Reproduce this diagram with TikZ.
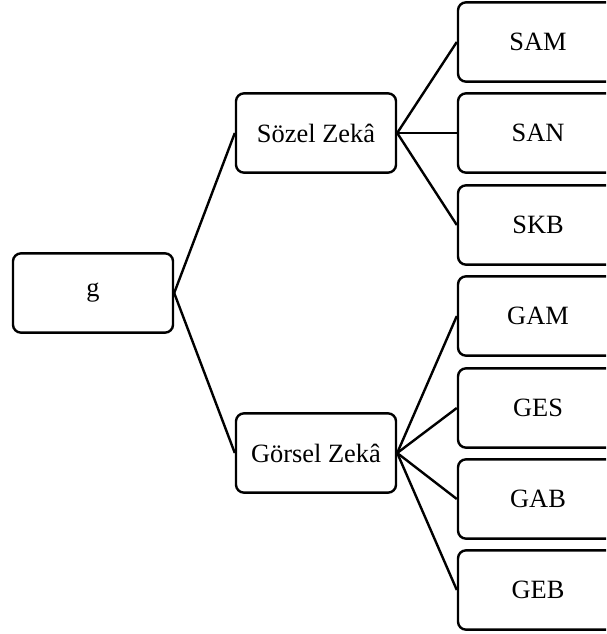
\documentclass[tikz,border=0pt]{standalone}
\usepackage{fontspec}
\setmainfont{Liberation Serif}
\begin{document}
\begin{tikzpicture}[x=0.75pt, y=-0.75pt, line width=1.8pt,
    box/.style={draw, rounded corners=6pt, minimum width=120pt, minimum height=59.5pt,
      font=\fontsize{19.8}{24}\selectfont, inner sep=0pt}]
      \useasboundingbox (0,0) rectangle (606,634);
      \clip (0,0) rectangle (606,634);
      \node[box] (g) at (93, 293) {g};
      \node[box] (soz) at (316, 133) {Sözel Zekâ};
      \node[box] (gor) at (316, 453) {Görsel Zekâ};

      \node[box] (sam) at (538, 42) {SAM};
      \node[box] (san) at (538, 133) {SAN};
      \node[box] (skb) at (538, 225) {SKB};
      \node[box] (gam) at (538, 316) {GAM};
      \node[box] (ges) at (538, 408) {GES};
      \node[box] (gab) at (538, 499) {GAB};
      \node[box] (geb) at (538, 590) {GEB};

      \draw (g.east) -- (soz.west);
      \draw (g.east) -- (gor.west);
      \foreach \t in {sam, san, skb}
        \draw (soz.east) -- (\t.west);
      \foreach \t in {gam, ges, gab, geb}
        \draw (gor.east) -- (\t.west);
    \end{tikzpicture}
\end{document}
